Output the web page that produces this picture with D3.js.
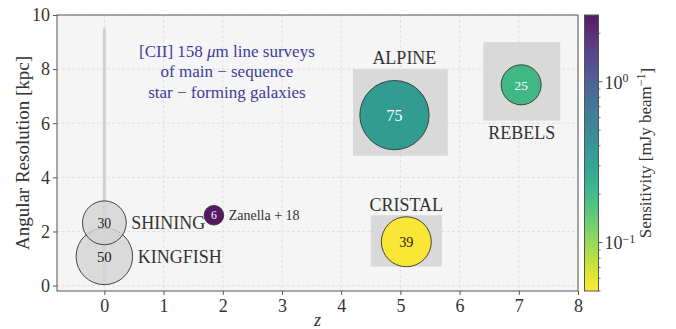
<!DOCTYPE html>
<html>
<head>
<meta charset="utf-8">
<script src="https://cdn.jsdelivr.net/npm/d3@7"></script>
<style>
  body { margin: 0; background: #fff; }
  svg { display: block; }
  svg text { font-family: "Liberation Serif", "Times New Roman", Times, serif !important; }
</style>
</head>
<body>
<svg id="chart" width="676" height="329"></svg>
<script>
// [CII] surveys: redshift, angular resolution, number of galaxies, sensitivity
const surveys     = ["KINGFISH", "SHINING", "Zanella + 18", "ALPINE", "REBELS", "CRISTAL"];
const redshift    = [0, 0, 1.85, 4.9, 7.04, 5.1];
const resolution  = [1.08, 2.32, 2.6, 6.3, 7.42, 1.62];
const nGalaxies   = [50, 30, 6, 75, 25, 39];
const sensitivity = [null, null, 2.6, 0.33, 0.2, 0.05];   // mJy/beam, null = local survey

// redshift / resolution coverage of the high-z programmes
const boxSurveys = ["ALPINE", "REBELS", "CRISTAL"];
const boxZ       = [[4.2, 5.8], [6.4, 7.7], [4.5, 5.7]];
const boxRes     = [[4.8, 8.0], [6.1, 9.0], [0.7, 2.6]];

const xTicks = [0, 1, 2, 3, 4, 5, 6, 7, 8];
const yTicks = [0, 2, 4, 6, 8, 10];
const titleLines = ["[CII] 158 μm line surveys", "of main − sequence", "star − forming galaxies"];

const svg = d3.select("#chart");
const L = 57, T = 15, R = 578, B = 291;

const x = d3.scaleLinear().domain([-0.8, 8]).range([L, R]);
const y = d3.scaleLinear().domain([-0.2, 10]).range([B, T]);
const r = d3.scaleSqrt().domain([0, 100]).range([0, 40]);
const sens = d3.scaleLog().domain([0.05, 2.6]).range([1, 0]);
const colour = v => d3.interpolateViridis(sens(v));

// plot background
svg.append("rect").attr("x", L).attr("y", T).attr("width", R - L).attr("height", B - T)
  .attr("fill", "#f5f5f5");

// grid
const grid = svg.append("g").attr("stroke", "#dadada").attr("stroke-width", 0.8)
  .attr("stroke-dasharray", "3,2");
grid.selectAll(".gx").data(xTicks).join("line")
  .attr("x1", d => x(d)).attr("x2", d => x(d)).attr("y1", T).attr("y2", B);
grid.selectAll(".gy").data(yTicks).join("line")
  .attr("y1", d => y(d)).attr("y2", d => y(d)).attr("x1", L).attr("x2", R);

// local-universe reference line at z = 0
svg.append("line").attr("x1", x(0)).attr("x2", x(0)).attr("y1", y(0)).attr("y2", y(9.5))
  .attr("stroke", "#d0d0d0").attr("stroke-width", 3);

// coverage boxes
svg.selectAll(".box").data(boxSurveys).join("rect")
  .attr("x", (d, i) => x(boxZ[i][0]))
  .attr("width", (d, i) => x(boxZ[i][1]) - x(boxZ[i][0]))
  .attr("y", (d, i) => y(boxRes[i][1]))
  .attr("height", (d, i) => y(boxRes[i][0]) - y(boxRes[i][1]))
  .attr("fill", "#d3d3d3").attr("opacity", 0.85);

// survey circles
const pts = surveys.map((s, i) => ({ s, z: redshift[i], res: resolution[i], n: nGalaxies[i], sv: sensitivity[i] }));
const g = svg.append("g");
pts.forEach(p => {
  const cx = x(p.z), cy = y(p.res), rad = r(p.n);
  g.append("circle").attr("cx", cx).attr("cy", cy).attr("r", rad)
    .attr("fill", p.sv == null ? "#d3d3d3" : colour(p.sv))
    .attr("fill-opacity", p.sv == null ? 0.8 : 0.9)
    .attr("stroke", "#333").attr("stroke-width", 0.9);
  const dark = p.sv != null && sens(p.sv) < 0.8;
  g.append("text").attr("x", cx).attr("y", cy).attr("dy", "0.35em")
    .attr("text-anchor", "middle")
    .attr("font-size", (10 + rad * 0.17).toFixed(1) + "px")
    .attr("fill", dark ? "#fff" : "#222")
    .text(p.n);
});

// survey names: local ones to the right of the circle, high-z ones at their boxes
pts.forEach(p => {
  if (boxSurveys.includes(p.s)) return;
  const small = p.s.startsWith("Zanella");
  svg.append("text").attr("x", x(p.z) + r(p.n) + 5).attr("y", y(p.res)).attr("dy", "0.35em")
    .attr("font-size", small ? "14px" : "18px").attr("fill", "#333").text(p.s);
});
boxSurveys.forEach((s, i) => {
  const cx = (x(boxZ[i][0]) + x(boxZ[i][1])) / 2 + (s === "ALPINE" ? 4 : 0);
  const below = s === "REBELS";
  svg.append("text").attr("x", cx)
    .attr("y", below ? y(boxRes[i][0]) + 12 : y(boxRes[i][1]) - 11)
    .attr("dy", "0.35em").attr("text-anchor", "middle")
    .attr("font-size", "18px").attr("fill", "#333").text(s);
});

// heading
const head = svg.append("text").attr("text-anchor", "middle").attr("font-size", "17px")
  .attr("fill", "#3c3c9c");
titleLines.forEach((t, i) => {
  head.append("tspan").attr("x", x(2.07)).attr("y", 51 + i * 20.5).attr("dy", "0.35em").text(t);
});
const first = head.select("tspan").text(null);
first.append("tspan").text("[CII] 158 ");
first.append("tspan").attr("font-style", "italic").text("μ");
first.append("tspan").text("m line surveys");

// axes
const axX = svg.append("g").attr("transform", `translate(0,${B})`)
  .call(d3.axisBottom(x).tickValues(xTicks).tickSize(4).tickPadding(4).tickFormat(d3.format("d")));
const axY = svg.append("g").attr("transform", `translate(${L},0)`)
  .call(d3.axisLeft(y).tickValues(yTicks).tickSize(4).tickPadding(3).tickFormat(d3.format("d")));
[axX, axY].forEach(a => {
  a.attr("font-family", null);
  a.select(".domain").remove();
  a.selectAll("line").attr("stroke", "#555");
  a.selectAll("text").attr("font-size", "18px").attr("fill", "#333");
});

// frame
svg.append("rect").attr("x", L).attr("y", T).attr("width", R - L).attr("height", B - T)
  .attr("fill", "none").attr("stroke", "#555").attr("stroke-width", 1);

svg.append("text").attr("transform", `translate(22,${(T + B) / 2}) rotate(-90)`)
  .attr("text-anchor", "middle").attr("dy", "0.35em").attr("font-size", "19px").attr("fill", "#333")
  .text("Angular Resolution [kpc]");
svg.append("text").attr("x", (L + R) / 2).attr("y", 326)
  .attr("text-anchor", "middle").attr("font-size", "18px").attr("font-style", "italic")
  .attr("fill", "#333").text("z");

// colour bar
const cbL = 584.5, cbW = 14;
const cb = d3.scaleLog().domain(sens.domain()).range([B, T]);
const grad = svg.append("defs").append("linearGradient").attr("id", "vir")
  .attr("x1", 0).attr("x2", 0).attr("y1", 0).attr("y2", 1);
d3.range(0, 1.0001, 0.05).forEach(t => {
  grad.append("stop").attr("offset", t).attr("stop-color", d3.interpolateViridis(t));
});
svg.append("rect").attr("x", cbL).attr("y", T).attr("width", cbW).attr("height", B - T)
  .attr("fill", "url(#vir)").attr("fill-opacity", 0.9)
  .attr("stroke", "#555").attr("stroke-width", 1);

const major = [0.1, 1];
const minor = [0.05, 0.06, 0.07, 0.08, 0.09, 0.2, 0.3, 0.4, 0.5, 0.6, 0.7, 0.8, 0.9, 2];
svg.selectAll(".cbmin").data(minor).join("line")
  .attr("x1", cbL + cbW).attr("x2", cbL + cbW + 2)
  .attr("y1", d => cb(d)).attr("y2", d => cb(d)).attr("stroke", "#555").attr("stroke-width", 0.8);
svg.selectAll(".cbmaj").data(major).join("line")
  .attr("x1", cbL + cbW).attr("x2", cbL + cbW + 4)
  .attr("y1", d => cb(d)).attr("y2", d => cb(d)).attr("stroke", "#555").attr("stroke-width", 1);
major.forEach(v => {
  const t = svg.append("text").attr("x", cbL + cbW + 6).attr("y", cb(v)).attr("dy", "0.38em")
    .attr("font-size", "18px").attr("fill", "#333");
  t.append("tspan").text("10");
  t.append("tspan").attr("dy", "-0.55em").attr("font-size", "12px")
    .text(Math.round(Math.log10(v)) === 0 ? "0" : "−1");
});

const cbLabel = svg.append("text").attr("transform", `translate(645,${(T + B) / 2}) rotate(-90)`)
  .attr("text-anchor", "middle").attr("dy", "0.35em").attr("font-size", "17px").attr("fill", "#333");
cbLabel.append("tspan").text("Sensitivity [mJy beam");
cbLabel.append("tspan").attr("dy", "-0.5em").attr("font-size", "12px").text("−1");
cbLabel.append("tspan").attr("dy", "0.5em").text("]");
</script>
</body>
</html>
